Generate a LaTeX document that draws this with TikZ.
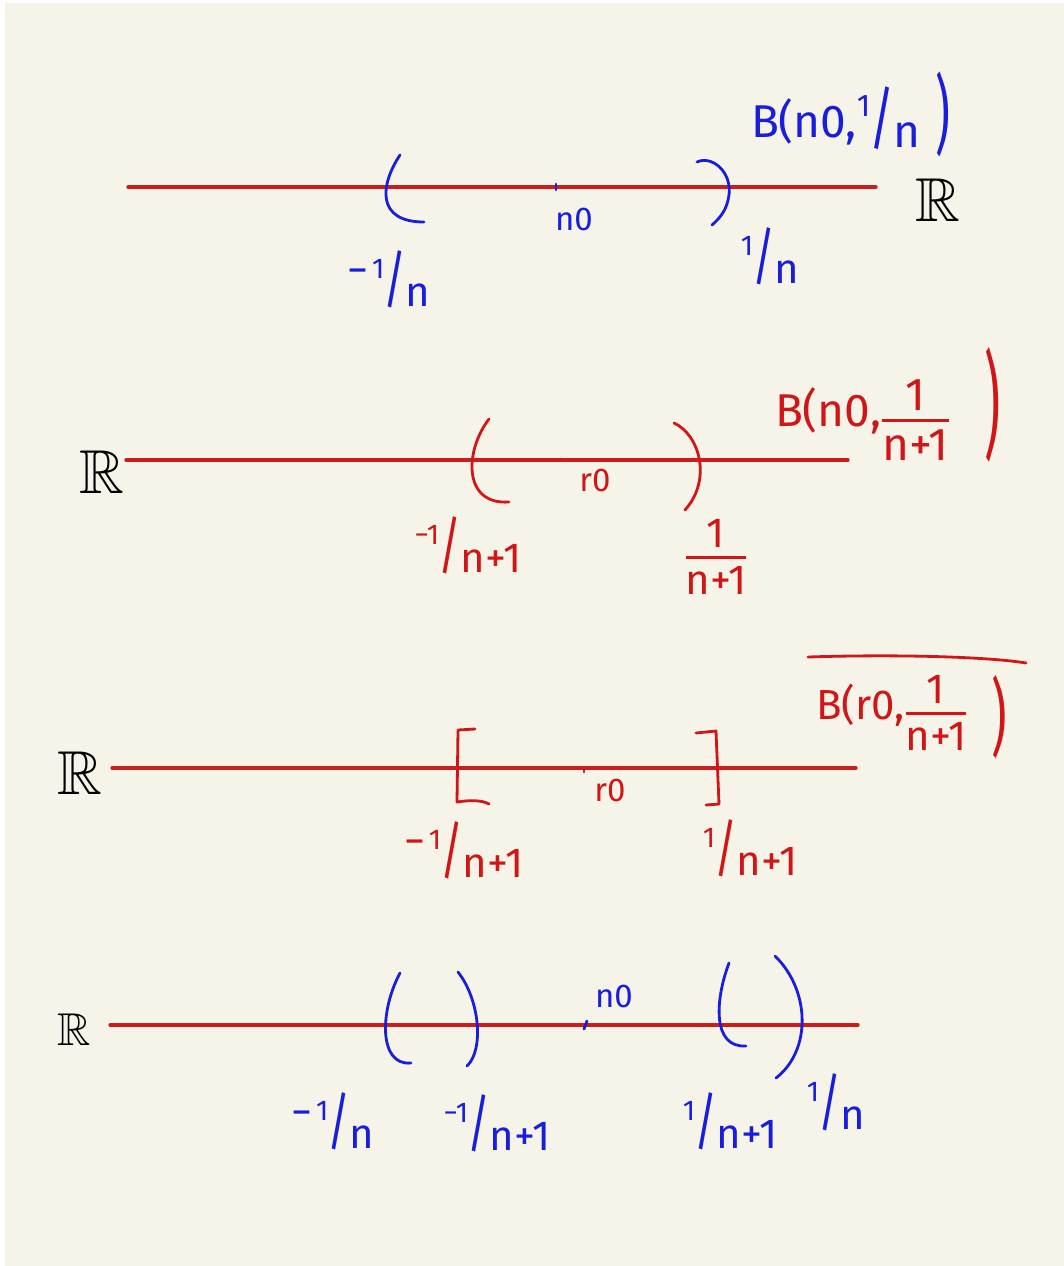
\documentclass[tikz,border=0pt]{standalone}
\usepackage{fontspec}
\usepackage{amsmath}
\usepackage{amssymb}
\usepackage{graphicx}
\setmainfont{Fira Sans}
\definecolor{bg}{RGB}{246,244,233}
\definecolor{inkblue}{RGB}{24,30,220}
\definecolor{inkred}{RGB}{208,22,22}
\definecolor{axisred}{RGB}{204,28,28}
% hand-style slanted fraction: raised numerator, tall slash, lowered denominator
\newcommand\hf[2]{\raisebox{0.45em}{\scalebox{0.68}{#1}}\kern-0.02em\raisebox{-0.1em}{\scalebox{1.05}[1.5]{/}}\kern-0.02em\raisebox{-0.22em}{#2}}
\newcommand\stk[2]{$\genfrac{}{}{2.6pt}{0}{\text{#1}}{\text{#2}}$}
\newcommand\hmin{\raisebox{0.3em}{−}\kern0.08em}
\begin{document}
\begin{tikzpicture}[x=1pt,y=-1pt,
  axis/.style={draw=axisred,line width=3.2pt,line cap=round},
  bpen/.style={draw=inkblue,line width=2.8pt,line cap=round,line join=round},
  rpen/.style={draw=inkred,line width=2.8pt,line cap=round,line join=round},
  lab/.style={inner sep=0pt,outer sep=0pt,font=\fontsize{42}{42}\selectfont},
  blab/.style={lab,text=inkblue},
  rlab/.style={lab,text=inkred},
  klab/.style={inner sep=0pt,outer sep=0pt,text=black,font=\fontsize{62}{62}\selectfont},
  small/.style={font=\fontsize{33}{33}\selectfont},
  big/.style={font=\fontsize{46}{46}\selectfont},
  paren/.style={font=\fontsize{40}{40}\selectfont}
]
\fill[white] (0,0) rectangle (1064,1266);
\fill[bg] (5,3) rectangle (1064,1266);
\useasboundingbox (0,0) rectangle (1064,1266);

% ---------------- panel 1 ----------------
\coordinate (a1l) at (128,187);
\coordinate (a1r) at (876,187);
\draw[axis] (a1l) -- (a1r);
\node[klab] (R1) at (938,200) {$\mathbb{R}$};
\draw[bpen] (400,155) .. controls (380,185) and (376,222) .. (424,222);
\draw[bpen] (697,162) .. controls (712,155) and (732,172) .. (729,195) .. controls (727,210) and (720,218) .. (712,225);
\draw[bpen] (556,184) -- (556,190);
\node[blab,small] (n1) at (574,219) {n0};
\node[blab] (m1) at (389,279) {\hmin\hf{1}{n}};
\node[blab] (p1) at (770,256) {\hf{1}{n}};
\node[blab,big,anchor=west] (B1) at (751,118) {B(n0,\hf{1}{n}};
\node[blab,paren] (B1c) at (943,114) {\scalebox{1.15}[2.15]{)}};

% ---------------- panel 2 ----------------
\coordinate (a2l) at (126,460);
\coordinate (a2r) at (848,460);
\draw[axis] (a2l) -- (a2r);
\node[klab] (R2) at (102,472) {$\mathbb{R}$};
\draw[rpen] (489,419) .. controls (465,450) and (462,505) .. (509,502);
\draw[rpen] (674,423) .. controls (700,435) and (712,480) .. (685,510);
\fill[inkred] (561,459) circle (1.5pt);
\node[rlab,small] (n2) at (595,480) {r0};
\node[rlab] (m2) at (468,545) {\hf{−1}{n+1}};
\node[rlab] (p2) at (716,557) {\stk{1}{n+1}};
\node[rlab,big,anchor=west] (B2) at (775,420) {B(n0,\stk{1}{n+1}};
\node[rlab,paren] (B2c) at (993,405) {\scalebox{1.25}[2.9]{)}};

% ---------------- panel 3 ----------------
\coordinate (a3l) at (112,768);
\coordinate (a3r) at (856,768);
\draw[axis] (a3l) -- (a3r);
\node[klab] (R3) at (80,773) {$\mathbb{R}$};
\coordinate (ov1) at (808,657);
\coordinate (ov2) at (1026,663);
\draw[rpen] (ov1) .. controls (900,654) and (990,657) .. (ov2);
\draw[rpen] (475,729) -- (458,730) -- (457,802) .. controls (470,800) and (482,800) .. (489,804);
\draw[rpen] (696,733) -- (716,731) -- (719,804) -- (706,805);
\draw[rpen] (584,768) -- (584,772);
\node[rlab,small] (n3) at (610,790) {r0};
\node[rlab] (m3) at (464,850) {\hmin\hf{1}{n+1}};
\node[rlab] (p3) at (750,848) {\hf{1}{n+1}};
\node[rlab,anchor=west] (B3) at (816,713) {B(r0,\stk{1}{n+1}};
\node[rlab,paren] (B3c) at (999,717) {\scalebox{1.2}[2.1]{)}};

% ---------------- panel 4 ----------------
\coordinate (a4l) at (110,1025);
\coordinate (a4r) at (858,1025);
\draw[axis] (a4l) -- (a4r);
\node[klab,font=\fontsize{46}{46}\selectfont] (R4) at (74,1030) {$\mathbb{R}$};
\draw[bpen] (400,973) .. controls (380,1010) and (378,1066) .. (411,1063);
\draw[bpen] (458,972) .. controls (480,1000) and (484,1050) .. (467,1066);
\draw[bpen] (729,963) .. controls (715,1000) and (712,1048) .. (746,1046);
\draw[bpen] (775,956) .. controls (810,990) and (812,1050) .. (776,1078);
\draw[bpen] (584,1029) -- (587,1021);
\node[blab,small] (n4) at (614,996) {n0};
\node[blab] (m4a) at (333,1121) {\hmin\hf{1}{n}};
\node[blab] (m4b) at (497,1123) {\hf{−1}{n+1}};
\node[blab] (p4a) at (730,1121) {\hf{1}{n+1}};
\node[blab] (p4b) at (836,1102) {\hf{1}{n}};
\end{tikzpicture}
\end{document}
